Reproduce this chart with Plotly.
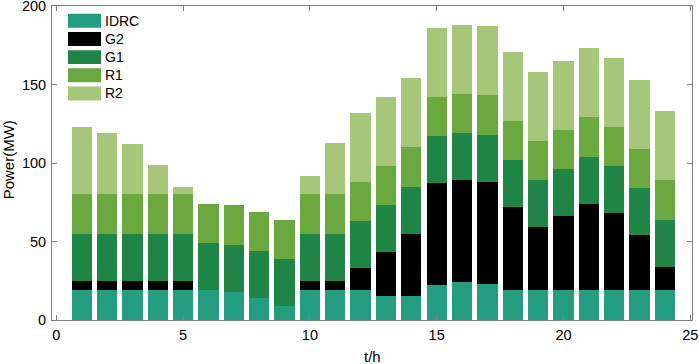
import plotly.graph_objects as go

hours = list(range(1, 25))
IDRC = [19, 19, 19, 19, 19, 19, 18, 14, 9, 19, 19, 19, 15, 15, 22, 24, 23, 19, 19, 19, 19, 19, 19, 19]
G2 = [6, 6, 6, 6, 6, 0, 0, 0, 0, 6, 6, 14, 28, 40, 65, 65, 65, 53, 40, 47, 55, 49, 35, 15]
G1 = [30] * 24
R1 = [25] * 24
R2 = [43, 39, 32, 19, 5, 0, 0, 0, 0, 12, 33, 44, 44, 44, 44, 44, 44, 44, 44, 44, 44, 44, 44, 44]

series_names = ["IDRC", "G2", "G1", "R1", "R2"]
series_values = [IDRC, G2, G1, R1, R2]
colors = ["#249C7F", "#000000", "#1F8547", "#6BA840", "#A6C67A"]

x_ticks = [0, 5, 10, 15, 20, 25]
y_ticks = [0, 50, 100, 150, 200]

FONT = "Liberation Sans, Arial, Helvetica, sans-serif"

fig = go.Figure()
for name, vals, col in zip(series_names, series_values, colors):
    fig.add_trace(go.Bar(x=hours, y=vals, name=name, width=0.8,
                         marker=dict(color=col, line=dict(width=0)),
                         showlegend=False, hoverinfo="skip"))

# manual legend (MATLAB-style wide swatches)
shapes = []
annotations = []
top = 0.975
step = 0.0578
sw_h = 0.0445
for i, (name, col) in enumerate(zip(series_names, colors)):
    y1 = top - i * step
    y0 = y1 - sw_h
    shapes.append(dict(type="rect", xref="paper", yref="paper",
                       x0=0.0250, x1=0.0766, y0=y0, y1=y1,
                       fillcolor=col, line=dict(width=0), layer="above"))
    annotations.append(dict(xref="paper", yref="paper", x=0.0790, y=(y0 + y1) / 2,
                            text=name, showarrow=False, xanchor="left", yanchor="middle",
                            font=dict(family=FONT, size=14, color="#000000")))

# axis titles
annotations.append(dict(xref="paper", yref="paper", x=0.5, y=-0.084, text="t/h",
                        showarrow=False, xanchor="center", yanchor="top",
                        font=dict(family=FONT, size=15, color="#000000")))
annotations.append(dict(xref="paper", yref="paper", x=-0.068, y=0.51, text="Power(MW)",
                        showarrow=False, xanchor="center", yanchor="middle", textangle=-90,
                        font=dict(family=FONT, size=15, color="#000000")))

axis_common = dict(ticks="inside", ticklen=5, tickcolor="#808080", showline=True,
                   linecolor="#808080", linewidth=1, mirror="ticks", showgrid=False,
                   zeroline=False, automargin=False, ticklabelstandoff=2,
                   ticklabeloverflow="allow",
                   tickfont=dict(family=FONT, size=14.5, color="#000000"))

fig.update_layout(
    barmode="stack",
    bargap=0.2,
    width=699, height=364,
    margin=dict(l=52, r=7, t=6, b=44, autoexpand=False),
    paper_bgcolor="white", plot_bgcolor="white",
    font=dict(family=FONT, size=14, color="#000000"),
    shapes=shapes,
    annotations=annotations,
    hovermode=False,
    xaxis=dict(range=[-0.17, 25.07], tickvals=x_ticks, ticktext=[str(v) for v in x_ticks],
               **axis_common),
    yaxis=dict(range=[0, 200], tickvals=y_ticks, ticktext=[str(v) for v in y_ticks],
               **axis_common),
)

fig.write_html("out.html", config={"displayModeBar": False, "staticPlot": True},
               post_script="document.body.style.margin='0px';document.body.style.overflow='hidden';")
